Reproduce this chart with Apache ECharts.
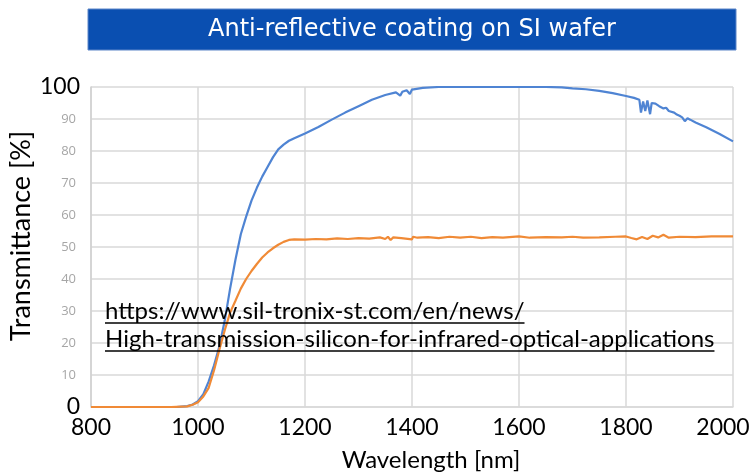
<!DOCTYPE html>
<html>
<head>
<meta charset="utf-8">
<script src="https://cdn.jsdelivr.net/npm/echarts@6/dist/echarts.min.js"></script>
<style>
html,body{margin:0;padding:0;background:#fff;}
#chart{width:754px;height:472px;}
</style>
</head>
<body>
<div id="chart"></div>
<script>
// ---- data ----
var titleText = 'Anti-reflective coating on SI wafer';
var xAxisTitle = 'Wavelength [nm]';
var yAxisTitle = 'Transmittance [%]';
var linkLines = ['https://www.sil-tronix-st.com/en/news/', 'High-transmission-silicon-for-infrared-optical-applications'];
var xTicks = [800, 1000, 1200, 1400, 1600, 1800, 2000];
var yTicks = [0, 10, 20, 30, 40, 50, 60, 70, 80, 90, 100];

var blueWavelength = [800, 900, 960, 980, 990, 1000, 1010, 1020, 1030, 1040, 1050, 1060, 1070, 1080, 1090, 1100, 1110, 1120, 1130, 1140, 1150, 1160, 1170, 1180, 1200, 1225, 1250, 1275, 1300, 1325, 1350, 1370, 1378, 1382, 1390, 1396, 1400, 1420, 1450, 1500, 1550, 1600, 1650, 1680, 1700, 1725, 1750, 1775, 1800, 1815, 1825, 1828, 1832, 1836, 1840, 1845, 1848, 1855, 1862, 1870, 1875, 1880, 1890, 1895, 1900, 1905, 1910, 1915, 1920, 1930, 1950, 1975, 2000];
var blueTransmittance = [0, 0, 0, 0.3, 0.8, 1.8, 4, 8, 13, 19, 27, 37, 46, 54, 59.5, 64.5, 68.5, 72, 75, 78, 80.5, 82, 83.2, 84, 85.5, 87.5, 89.8, 92, 94, 96, 97.5, 98.3, 97.3, 98.5, 99, 97.8, 99.2, 99.7, 100, 100, 100, 100, 100, 99.9, 99.6, 99.3, 98.8, 98.1, 97.2, 96.6, 96, 92, 95.5, 92.5, 95.8, 91.5, 95, 94.8, 94, 93.3, 93.5, 92.5, 92, 91.4, 91, 90.5, 89.3, 90.2, 89.8, 88.9, 87.4, 85.3, 83];

var orangeWavelength = [800, 950, 980, 990, 1000, 1010, 1020, 1030, 1040, 1050, 1060, 1070, 1080, 1090, 1100, 1110, 1120, 1130, 1140, 1150, 1160, 1170, 1180, 1200, 1220, 1240, 1260, 1280, 1300, 1320, 1340, 1350, 1355, 1360, 1365, 1380, 1400, 1402, 1410, 1430, 1450, 1470, 1490, 1510, 1530, 1550, 1570, 1600, 1620, 1650, 1680, 1700, 1720, 1750, 1780, 1800, 1810, 1820, 1830, 1840, 1850, 1860, 1870, 1880, 1900, 1930, 1960, 2000];
var orangeTransmittance = [0, 0, 0.2, 0.7, 1.5, 3.3, 6, 11.5, 18, 24, 29.5, 33.2, 37, 40, 42.5, 44.7, 46.7, 48.3, 49.6, 50.7, 51.6, 52.2, 52.4, 52.3, 52.5, 52.4, 52.7, 52.5, 52.8, 52.6, 53.0, 52.5, 53.2, 52.2, 53.0, 52.8, 52.4, 53.2, 52.9, 53.1, 52.8, 53.2, 52.9, 53.2, 52.8, 53.1, 52.9, 53.3, 52.9, 53.1, 53.0, 53.2, 52.9, 53.0, 53.2, 53.3, 52.8, 52.4, 53.1, 52.5, 53.5, 53.0, 53.8, 52.9, 53.2, 53.1, 53.3, 53.3];

function zip(xs, ys) { return xs.map(function (x, i) { return [x, ys[i]]; }); }

var linkFont = '24px Lato';
function measure(t, font) {
  var c = document.createElement('canvas').getContext('2d');
  c.font = font;
  return c.measureText(t).width;
}

var chart = echarts.init(document.getElementById('chart'), null, {renderer: 'canvas'});
var linkX = 105, linkY = [311, 339];
var graphics = [
  {type: 'rect', shape: {x: 88, y: 9, width: 648, height: 41}, style: {fill: '#0a4fb1', stroke: '#5d86c8', lineWidth: 1}, z: 10},
  {type: 'text', x: 412, y: 30, style: {text: titleText, fill: '#ffffff', font: '24px "DejaVu Sans"', textAlign: 'center', textVerticalAlign: 'middle'}, z: 11},
  {type: 'text', x: 431, y: 460, style: {text: xAxisTitle, fill: '#000', font: '24px Lato', textAlign: 'center', textVerticalAlign: 'middle'}, z: 11},
  {type: 'text', x: 21, y: 236, rotation: Math.PI / 2, style: {text: yAxisTitle, fill: '#000', font: '27px Lato', textAlign: 'center', textVerticalAlign: 'middle'}, z: 11}
];
linkLines.forEach(function (t, i) {
  var w = measure(t, linkFont);
  graphics.push({type: 'text', x: linkX, y: linkY[i], style: {text: t, fill: '#000', font: linkFont, textAlign: 'left', textVerticalAlign: 'middle'}, z: 11});
  graphics.push({type: 'line', shape: {x1: linkX, y1: linkY[i] + 12, x2: linkX + w, y2: linkY[i] + 12}, style: {stroke: '#000', lineWidth: 1.3}, z: 11});
});

chart.setOption({
  animation: false,
  backgroundColor: '#fff',
  grid: {left: 91, right: 21, top: 87, bottom: 65, containLabel: false},
  xAxis: {
    type: 'value', min: xTicks[0], max: xTicks[xTicks.length - 1], interval: 200,
    axisLine: {show: true, lineStyle: {color: '#d9d9d9', width: 1.5}},
    axisTick: {show: false},
    splitLine: {show: true, lineStyle: {color: '#d9d9d9', width: 1.5}},
    axisLabel: {
      margin: 9, color: '#000', fontSize: 23, fontFamily: 'Lato',
      formatter: function (v) { return v === 2000 ? '{e|' + v + '}' : String(v); },
      rich: {e: {fontSize: 23, fontFamily: 'Lato', color: '#000', padding: [0, 20, 0, 0]}}
    }
  },
  yAxis: {
    type: 'value', min: yTicks[0], max: yTicks[yTicks.length - 1], interval: 10,
    axisLine: {show: true, lineStyle: {color: '#d0d0d0', width: 1.5}},
    axisTick: {show: false},
    splitLine: {show: true, lineStyle: {color: '#d9d9d9', width: 1.5}},
    axisLabel: {
      margin: 11,
      formatter: function (v) { return (v === 0 || v === 100) ? '{b|' + v + '}' : '{g|' + v + '}'; },
      rich: {
        b: {fontSize: 23, fontFamily: 'Lato', color: '#000', padding: [0, 0, 0, 0]},
        g: {fontSize: 13, fontFamily: 'Open Sans', color: '#a6a6a6', padding: [0, 4, 0, 0]}
      }
    }
  },
  series: [
    {type: 'line', data: zip(blueWavelength, blueTransmittance), showSymbol: false, smooth: false,
     lineStyle: {color: '#4f84d3', width: 2.2}, z: 3},
    {type: 'line', data: zip(orangeWavelength, orangeTransmittance), showSymbol: false, smooth: false,
     lineStyle: {color: '#f08a36', width: 2.2}, z: 4}
  ],
  graphic: graphics
});
</script>
</body>
</html>
